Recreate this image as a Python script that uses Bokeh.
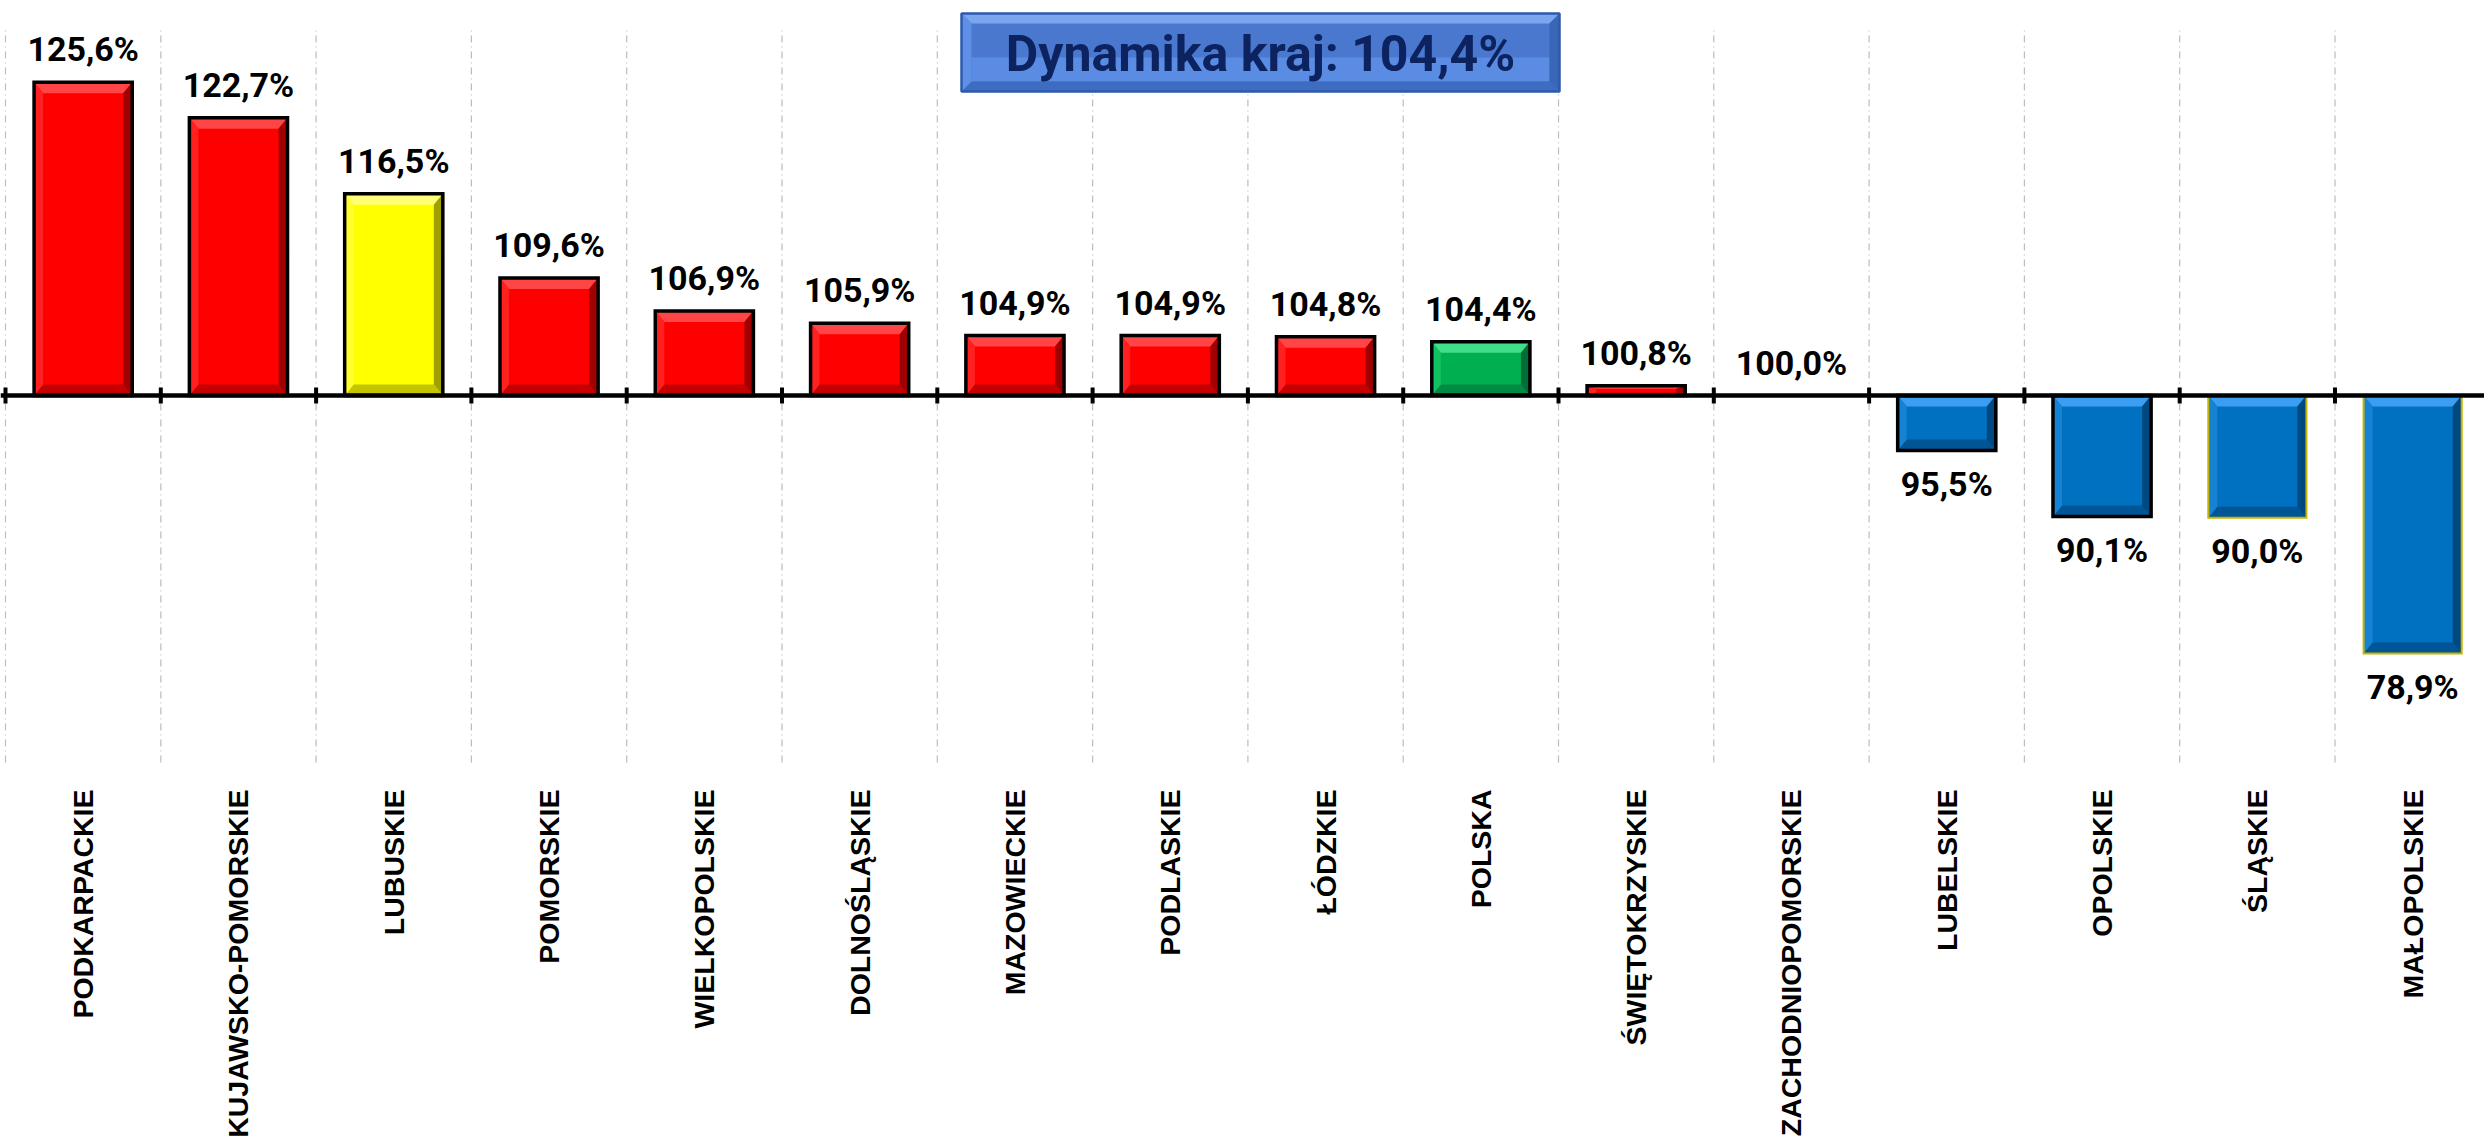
import math
from bokeh.plotting import figure
from bokeh.models import ColumnDataSource, Range1d, Span
from bokeh.core.properties import value
from bokeh.embed import file_html
from bokeh.resources import INLINE

# ---------------- data ----------------
categories = ["PODKARPACKIE", "KUJAWSKO-POMORSKIE", "LUBUSKIE", "POMORSKIE",
              "WIELKOPOLSKIE", "DOLNOŚLĄSKIE", "MAZOWIECKIE", "PODLASKIE",
              "ŁÓDZKIE", "POLSKA", "ŚWIĘTOKRZYSKIE", "ZACHODNIOPOMORSKIE",
              "LUBELSKIE", "OPOLSKIE", "ŚLĄSKIE", "MAŁOPOLSKIE"]
values = [125.6, 122.7, 116.5, 109.6, 106.9, 105.9, 104.9, 104.9,
          104.8, 104.4, 100.8, 100.0, 95.5, 90.1, 90.0, 78.9]
bar_kinds = ["red", "red", "yellow", "red", "red", "red", "red", "red",
             "red", "green", "red", "red", "blue", "blue", "blue", "blue"]
outline_kinds = ["black"] * 14 + ["olive", "olive"]
country_label = "Dynamika kraj"
country_value = 104.4
base_value = 100.0

# ---------------- styling ----------------
palette = {
    # main, top, left, right, bottom
    "red":    ("#FF0000", "#FF4545", "#FF2020", "#A00000", "#C40000"),
    "yellow": ("#FFFF00", "#FFFF78", "#FFFF30", "#A0A000", "#C4C400"),
    "green":  ("#00B050", "#40DE88", "#12C262", "#006E38", "#008A46"),
    "blue":   ("#0070C0", "#3C9EF2", "#1682D2", "#004880", "#005596"),
}
outline_colors = {"black": "#000000", "olive": "#C8B400"}
outline_widths = {"black": 3.5, "olive": 2.0}

W, H = 2484, 1147
n = len(categories)
x_org = 5                     # page x of the first category boundary
px_x = 155.3                  # pixels per category
axis_py = 395                 # page y of the 100% line
px_y = 12.233                 # pixels per percentage point
y_top = base_value + axis_py / px_y
y_bot = base_value - (H - axis_py) / px_y
grid_lo, grid_hi = 70, 130

p = figure(width=W, height=H, output_backend="svg", toolbar_location=None,
           x_range=Range1d(-x_org / px_x, (W - x_org) / px_x),
           y_range=Range1d(y_bot, y_top),
           x_axis_location=None, y_axis_location=None,
           min_border=0, outline_line_color=None)
p.grid.visible = False
p.background_fill_color = "white"
p.border_fill_color = "white"

# dashed vertical gridlines
gx = list(range(n + 1))
p.segment(x0=gx, x1=gx, y0=[grid_lo] * len(gx), y1=[grid_hi] * len(gx),
          line_color="#BDBDBD", line_width=1.2, line_dash="7 4 1 4")

def sx(px):  # page px -> data x
    return (px - x_org) / px_x

def sy(py):  # page px -> data y
    return y_top - py / px_y

bar_w = 0.632
bev_x = 9 / px_x
bev_y_full = 11 / px_y

main_x, main_top, main_bot, main_col = [], [], [], []
out_x, out_top, out_bot, out_col, out_w = [], [], [], [], []
pxs, pys, pcol = [], [], []
for i, (v, kind, ok) in enumerate(zip(values, bar_kinds, outline_kinds)):
    if abs(v - base_value) < 1e-9:
        continue
    c = i + 0.5
    x0, x1 = c - bar_w / 2, c + bar_w / 2
    lo, hi = min(v, base_value), max(v, base_value)
    main, top, left, right, bottom = palette[kind]
    main_x.append(c); main_top.append(hi); main_bot.append(lo); main_col.append(main)
    out_x.append(c); out_top.append(hi); out_bot.append(lo)
    out_col.append(outline_colors[ok]); out_w.append(outline_widths[ok])
    by = min(bev_y_full, (hi - lo) * 0.3)
    bx = bev_x
    pxs += [[x0, x1, x1 - bx, x0 + bx], [x0, x1, x1 - bx, x0 + bx],
            [x0, x0, x0 + bx, x0 + bx], [x1, x1, x1 - bx, x1 - bx]]
    pys += [[hi, hi, hi - by, hi - by], [lo, lo, lo + by, lo + by],
            [lo, hi, hi - by, lo + by], [lo, hi, hi - by, lo + by]]
    pcol += [top, bottom, left, right]

p.vbar(x=main_x, top=main_top, bottom=main_bot, width=bar_w,
       fill_color=main_col, line_color=None)
p.patches(xs=pxs, ys=pys, fill_color=pcol, line_color=None)
p.vbar(x=out_x, top=out_top, bottom=out_bot, width=bar_w,
       fill_alpha=0, line_color=out_col, line_width=out_w, line_join="miter")

# 100% line with ticks
p.add_layout(Span(location=base_value, dimension="width", line_color="#000000",
                  line_width=4.5))
tk = 8 / px_y
p.segment(x0=gx, x1=gx, y0=[base_value - tk] * len(gx), y1=[base_value + tk] * len(gx),
          line_color="#000000", line_width=4)

# value labels
def fmt(v):
    return f"{v:.1f}".replace(".", ",") + "%"

lab_src = ColumnDataSource(dict(
    x=[i + 0.5 for i in range(n)],
    y=values,
    text=[fmt(v) for v in values],
    yoff=[-33 if v >= base_value else 33 for v in values],
))
p.text(x="x", y="y", text="text", y_offset="yoff", source=lab_src,
       text_font=value("Roboto"), text_font_style="bold",
       text_font_size="34px", text_color="#000000",
       text_align="center", text_baseline="middle")

# category labels (rotated)
p.text(x=[i + 0.5 for i in range(n)], y=[grid_lo] * n, text=categories,
       angle=math.pi / 2, y_offset=27,
       text_font=value("Liberation Sans"), text_font_style="bold",
       text_font_size="28.5px", text_color="#000000",
       text_align="right", text_baseline="middle")

# title box with bevel
bl, br = sx(961), sx(1559)
bt, bb = sy(13), sy(91)
tbx, tby = 10 / px_x, 10 / px_y
p.quad(left=[bl], right=[br], top=[bt], bottom=[bb],
       fill_color="#4A78CF", line_color=None)
p.quad(left=[bl + tbx], right=[br - tbx], top=[(bt + bb) / 2 - 0.4], bottom=[bb + tby],
       fill_color="#5A8CE4", line_color=None)
p.patches(xs=[[bl, br, br - tbx, bl + tbx], [bl, br, br - tbx, bl + tbx],
              [bl, bl, bl + tbx, bl + tbx], [br, br, br - tbx, br - tbx]],
          ys=[[bt, bt, bt - tby, bt - tby], [bb, bb, bb + tby, bb + tby],
              [bb, bt, bt - tby, bb + tby], [bb, bt, bt - tby, bb + tby]],
          fill_color=["#7BA6EE", "#3D6CC0", "#5F90E6", "#3A66B8"], line_color=None)
p.quad(left=[bl], right=[br], top=[bt], bottom=[bb],
       fill_alpha=0, line_color="#2D5AAE", line_width=2.5)
p.text(x=[(bl + br) / 2], y=[sy(53)],
       text=[f"{country_label}: {fmt(country_value)}"],
       text_font=value("Roboto"), text_font_style="bold",
       text_font_size="50px", text_color="#0D2360",
       text_align="center", text_baseline="middle")

open("out.html", "w").write(file_html(p, INLINE))
